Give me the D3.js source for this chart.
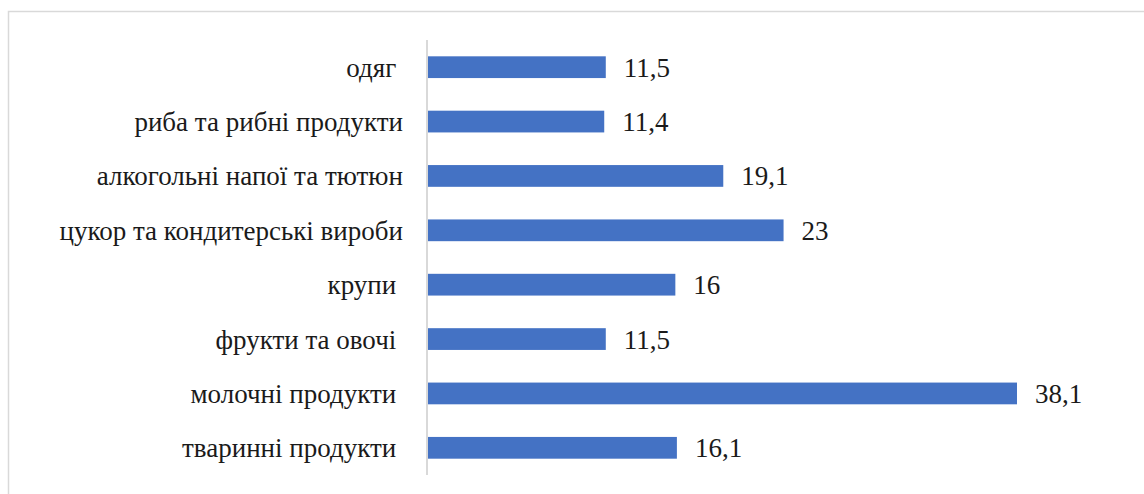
<!DOCTYPE html>
<html>
<head>
<meta charset="utf-8">
<script src="https://cdn.jsdelivr.net/npm/d3@7"></script>
<style>
  body { margin: 0; background: #fff; }
</style>
</head>
<body>
<div id="plot"><svg width="1144" height="494"></svg></div>
<script>
    // Inline data (top to bottom as drawn)
    const categories = [
      "одяг ",
      "риба та рибні продукти",
      "алкогольні напої та тютюн",
      "цукор та кондитерські вироби",
      "крупи ",
      "фрукти та овочі ",
      "молочні продукти ",
      "тваринні продукти "
    ];
    const values = [11.5, 11.4, 19.1, 23, 16, 11.5, 38.1, 16.1];
    const valueLabels = ["11,5", "11,4", "19,1", "23", "16", "11,5", "38,1", "16,1"];

    const data = categories.map((c, i) => ({ cat: c, value: values[i], label: valueLabels[i] }));

    const width = 1144;
    const height = 494;
    const margin = { top: 40, right: 127, bottom: 19, left: 428 };
    const serif = "'Liberation Serif', 'Times New Roman', 'DejaVu Serif', serif";

    const svg = d3.select("div#plot svg");

    // chart border (only top and left edges visible in frame)
    svg.append("rect")
      .attr("x", 8.5)
      .attr("y", 11.5)
      .attr("width", width)
      .attr("height", height)
      .attr("fill", "none")
      .attr("stroke", "#d9d9d9")
      .attr("stroke-width", 1.5);

    const x = d3.scaleLinear()
      .domain([0, 38.1])
      .range([margin.left, 1017]);

    const y = d3.scaleBand()
      .domain(categories)
      .range([margin.top, height - margin.bottom])
      .paddingInner(0.6)
      .paddingOuter(0.3);

    svg.selectAll(".bar")
      .data(data)
      .enter()
      .append("rect")
      .attr("class", "bar")
      .attr("x", x(0))
      .attr("y", d => y(d.cat))
      .attr("width", d => x(d.value) - x(0))
      .attr("height", y.bandwidth())
      .attr("fill", "#4472c4");

    // category axis line
    svg.append("line")
      .attr("x1", x(0) - 1)
      .attr("x2", x(0) - 1)
      .attr("y1", margin.top)
      .attr("y2", height - margin.bottom)
      .attr("stroke", "#d9d9d9")
      .attr("stroke-width", 2);

    svg.selectAll(".cat")
      .data(data)
      .enter()
      .append("text")
      .attr("class", "cat")
      .attr("x", 403)
      .attr("y", d => y(d.cat) + y.bandwidth() / 2)
      .attr("dy", "0.35em")
      .attr("text-anchor", "end")
      .attr("fill", "#1a1a1a")
      .style("font-family", serif)
      .style("white-space", "pre")
      .style("font-size", "27px")
      .text(d => d.cat);

    svg.selectAll(".val")
      .data(data)
      .enter()
      .append("text")
      .attr("class", "val")
      .attr("x", d => x(d.value) + 18)
      .attr("y", d => y(d.cat) + y.bandwidth() / 2)
      .attr("dy", "0.35em")
      .attr("fill", "#1a1a1a")
      .style("font-family", serif)
      .style("font-size", "27px")
      .text(d => d.label);
</script>
</body>
</html>
